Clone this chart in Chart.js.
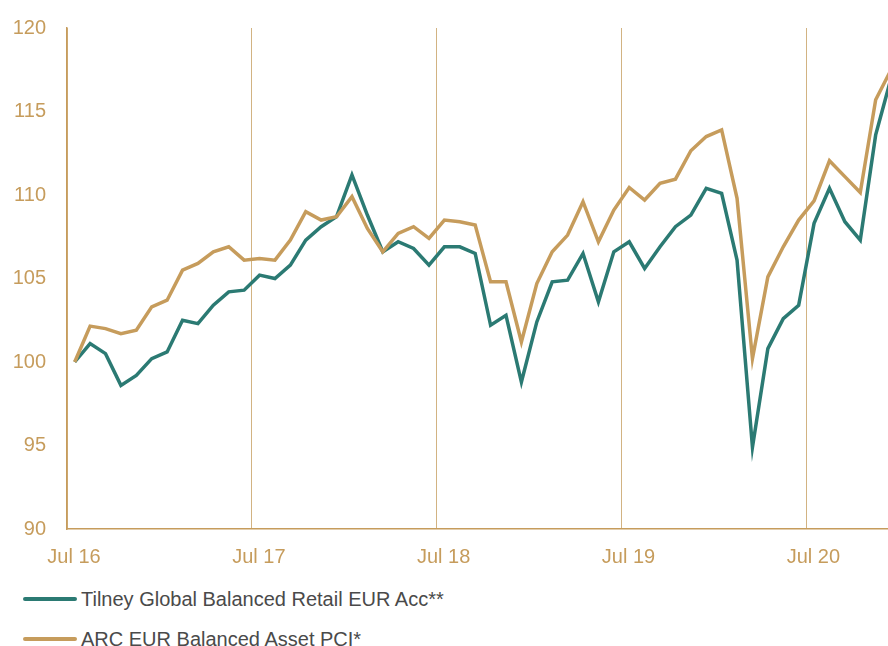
<!DOCTYPE html>
<html>
<head>
<meta charset="utf-8">
<script src="https://cdn.jsdelivr.net/npm/chart.js@4"></script>
<style>
  html, body { margin: 0; padding: 0; background: #fff; }
  #wrap { position: relative; width: 888px; height: 646px; overflow: hidden; }
  #chart { position: absolute; left: 0; top: 3px; }
  .leg { position: absolute; left: 23px; font: 20px "Liberation Sans", Arial, sans-serif; color: #4a4a4a; white-space: nowrap; }
  .leg i { display: inline-block; width: 54px; height: 4px; border-radius: 2px; vertical-align: middle; margin-right: 4px; position: relative; top: -2px; }
</style>
</head>
<body>
<div id="wrap">
  <canvas id="chart" width="888" height="577"></canvas>
  <div class="leg" style="top:588px"><i style="background:#2b7a73"></i><span id="lab0"></span></div>
  <div class="leg" style="top:628px"><i style="background:#c69c5c"></i><span id="lab1"></span></div>
</div>
<script>
// séries mensuelles, base 100 en juillet 2016
const seriesNames = ['Tilney Global Balanced Retail EUR Acc**', 'ARC EUR Balanced Asset PCI*'];

const tilney = [
  100.0, 101.1, 100.5, 98.6, 99.2, 100.2, 100.6, 102.5, 102.3, 103.4, 104.2, 104.3,
  105.2, 105.0, 105.8, 107.3, 108.1, 108.7, 111.2, 108.8, 106.6, 107.2, 106.8, 105.8,
  106.9, 106.9, 106.5, 102.2, 102.8, 98.8, 102.4, 104.8, 104.9, 106.5, 103.6, 106.6,
  107.2, 105.6, 106.9, 108.1, 108.8, 110.4, 110.1, 106.1, 94.9, 100.8, 102.6, 103.4,
  108.3, 110.4, 108.4, 107.3, 113.6, 117.0
];

const arc = [
  100.0, 102.15, 102.0, 101.7, 101.9, 103.3, 103.7, 105.5, 105.9, 106.6, 106.9, 106.1,
  106.2, 106.1, 107.3, 109.0, 108.5, 108.7, 109.9, 108.0, 106.6, 107.7, 108.1, 107.4,
  108.5, 108.4, 108.2, 104.8, 104.8, 101.2, 104.7, 106.6, 107.6, 109.6, 107.2, 109.1,
  110.45, 109.7, 110.7, 110.95, 112.65, 113.5, 113.9, 109.8, 100.2, 105.1, 106.9, 108.5,
  109.65, 112.05, 111.1, 110.15, 115.7, 117.5
];

// axe des x en mois depuis le 1er juillet 2016
const tickMonths = [0, 12, 24, 36, 48];
const tickLabels = ['Jul 16', 'Jul 17', 'Jul 18', 'Jul 19', 'Jul 20'];

const gold  = '#c69c5c';
const teal  = '#2b7a73';
const grid  = '#d2b382';

document.getElementById('lab0').textContent = seriesNames[0];
document.getElementById('lab1').textContent = seriesNames[1];

const toPoints = arr => arr.map((v, i) => ({ x: i + 0.5, y: v }));

new Chart(document.getElementById('chart'), {
  type: 'line',
  data: {
    datasets: [
      { label: seriesNames[1], data: toPoints(arc),    borderColor: gold, borderWidth: 3.5, pointRadius: 0, tension: 0 },
      { label: seriesNames[0], data: toPoints(tilney), borderColor: teal, borderWidth: 3.5, pointRadius: 0, tension: 0 }
    ]
  },
  options: {
    responsive: false,
    animation: false,
    layout: { padding: { top: 22, right: 0, bottom: 0, left: 0 } },
    plugins: { legend: { display: false }, tooltip: { enabled: false } },
    scales: {
      x: {
        type: 'linear',
        min: 0,
        max: 53.3,
        afterBuildTicks: s => { s.ticks = tickMonths.map(v => ({ value: v })); },
        afterFit: s => { s.height = 51; },
        grid: { color: grid, lineWidth: 1, drawTicks: false },
        border: { color: gold, width: 1.5 },
        ticks: {
          color: gold,
          font: { family: 'Liberation Sans', size: 20 },
          padding: 16,
          labelOffset: 7,
          maxRotation: 0,
          autoSkip: false,
          callback: v => tickLabels[tickMonths.indexOf(v)]
        }
      },
      y: {
        min: 90,
        max: 120,
        afterFit: s => { s.width = 67; },
        grid: { display: false },
        border: { color: gold, width: 1.5 },
        ticks: {
          stepSize: 5,
          color: gold,
          font: { family: 'Liberation Sans', size: 20 },
          padding: 13
        }
      }
    }
  }
});
</script>
</body>
</html>
